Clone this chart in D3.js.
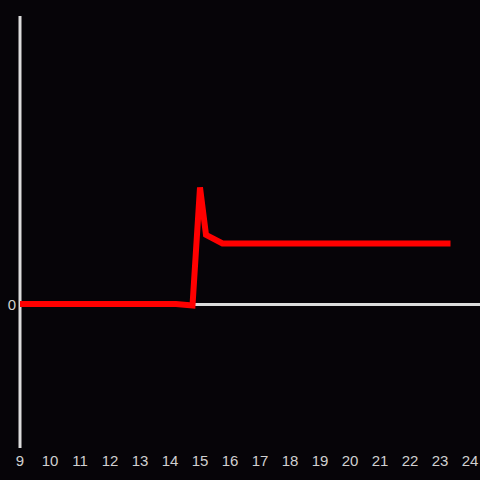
<!DOCTYPE html>
<html lang="en">
<head>
<meta charset="UTF-8">
<script src="https://cdnjs.cloudflare.com/ajax/libs/d3/7.8.5/d3.min.js"></script>
<style>
  html, body { margin: 0; padding: 0; background: #060408; }
  svg { display: block; }
</style>
</head>
<body>
<script>
// series
var hours = [9, 10, 11, 12, 13, 14, 14.2, 14.75, 15.0, 15.2, 15.75, 17, 19, 21, 23.35];
var values = [0, 0, 0, 0, 0, 0, 0, -0.01, 0.81, 0.48, 0.42, 0.42, 0.42, 0.42, 0.42];
var xTicks = d3.range(9, 25);
var yTicks = [0];

var width = 480, height = 480;
var x = d3.scaleLinear().domain([9, 24]).range([20, 470]);
var y = d3.scaleLinear().domain([-1, 2]).range([448, 16]);

var svg = d3.select('body').append('svg')
    .attr('width', width)
    .attr('height', height)
    .style('background', '#060408');

// y axis line
svg.append('line')
    .attr('x1', x(9)).attr('x2', x(9))
    .attr('y1', y(2)).attr('y2', y(-1))
    .attr('stroke', '#dcdcdc').attr('stroke-width', 3);

// zero line
svg.append('line')
    .attr('x1', x(9)).attr('x2', width)
    .attr('y1', y(0) + 0.5).attr('y2', y(0) + 0.5)
    .attr('stroke', '#dcdcdc').attr('stroke-width', 3);

svg.selectAll('.xt')
    .data(xTicks)
    .enter().append('text')
    .attr('class', 'xt')
    .attr('x', function (d) { return x(d); })
    .attr('y', 466)
    .attr('text-anchor', 'middle')
    .attr('font-family', 'Liberation Sans, Arial, sans-serif')
    .attr('font-size', 15)
    .attr('fill', '#d0d0d0')
    .text(function (d) { return d; });

svg.selectAll('.yt')
    .data(yTicks)
    .enter().append('text')
    .attr('class', 'yt')
    .attr('x', 16)
    .attr('y', y(0) + 6)
    .attr('text-anchor', 'end')
    .attr('font-family', 'Liberation Sans, Arial, sans-serif')
    .attr('font-size', 15)
    .attr('fill', '#d0d0d0')
    .text(function (d) { return d; });

var line = d3.line()
    .x(function (d, i) { return x(hours[i]); })
    .y(function (d) { return y(d); });

svg.append('path')
    .datum(values)
    .attr('d', line)
    .attr('fill', 'none')
    .attr('stroke', '#ff0000')
    .attr('stroke-width', 6);
</script>
</body>
</html>
